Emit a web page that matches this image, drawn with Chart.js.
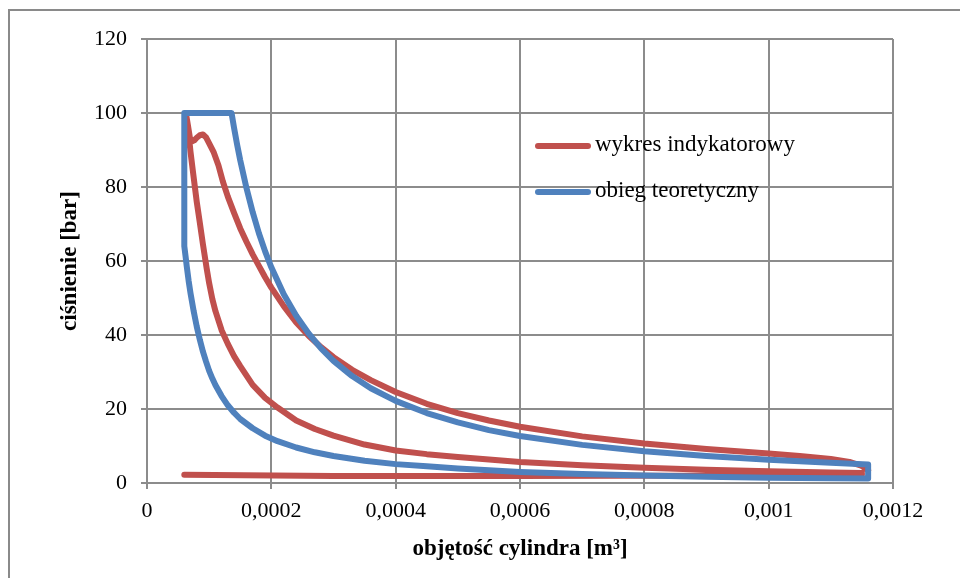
<!DOCTYPE html>
<html>
<head>
<meta charset="utf-8">
<script src="https://cdn.jsdelivr.net/npm/chart.js@4.4.1/dist/chart.umd.min.js"></script>
<style>
  html, body { margin: 0; padding: 0; background: #fff; }
  #wrap { width: 960px; height: 578px; position: relative; }
</style>
</head>
<body>
<div id="wrap"><canvas id="pv" width="960" height="578"></canvas></div>
<script>
// ─── Data ───
const xTicks = [0, 0.0002, 0.0004, 0.0006, 0.0008, 0.001, 0.0012];
const yTicks = [0, 20, 40, 60, 80, 100, 120];

// wykres indykatorowy: intake/exhaust line, compression, combustion bump, expansion
const redV = [
  // intake / exhaust
  0.00006, 0.0003, 0.0006, 0.0009, 0.00115,
  // compression
  0.00115, 0.0011, 0.001, 0.0009, 0.0008, 0.0007, 0.0006, 0.0005, 0.00045, 0.0004, 0.00035,
  0.0003, 0.00027, 0.00024, 0.00021, 0.00019, 0.00017, 0.00015, 0.00014, 0.00013, 0.00012,
  0.00011, 0.000105, 0.0001, 0.000096, 0.00009, 0.000085, 0.00008, 0.000074, 0.00007,
  0.000066, 0.000063,
  // combustion
  0.000066, 0.000069, 0.000072, 0.000076, 0.00008, 0.000085, 0.00009, 0.000095,
  // expansion
  0.0001, 0.000107, 0.000115, 0.000122, 0.00013, 0.00014, 0.00015, 0.00016, 0.00017, 0.00018,
  0.00019, 0.0002, 0.00022, 0.00024, 0.00026, 0.00028, 0.0003, 0.00033, 0.00036, 0.0004,
  0.00045, 0.0005, 0.00055, 0.0006, 0.0007, 0.0008, 0.0009, 0.001, 0.00105, 0.0011, 0.00113,
  0.00115, 0.00116
];
const redP = [
  2.2, 1.9, 1.9, 2.0, 2.2,
  2.7, 2.85, 3.2, 3.6, 4.1, 4.8, 5.7, 7.0, 7.8, 8.8, 10.4,
  12.8, 14.6, 16.9, 20.4, 23.0, 26.5, 31.6, 34.3, 37.6, 41.3,
  46.5, 49.8, 54, 58, 64.5, 70.3, 76, 84, 89.5,
  96, 99.5,
  96.5, 93.3, 92.3, 92.6, 93.3, 94.0, 94.2, 93.4,
  91.8, 89.5, 85.8, 81.5, 77.4, 73, 68.8, 65.2, 61.8, 58.7,
  55.6, 52.8, 47.8, 43.4, 39.8, 36.7, 34.0, 30.6, 27.8, 24.6,
  21.4, 18.9, 16.9, 15.2, 12.6, 10.7, 9.2, 8.0, 7.3, 6.5, 5.7,
  4.6, 3.4
];

// obieg teoretyczny: compression, heat at V=const, heat at p=const, expansion, exhaust
const blueV = [
  // compression
  0.00116, 0.0011, 0.001, 0.0009, 0.0008, 0.0007, 0.0006, 0.0005, 0.00045, 0.0004, 0.00035,
  0.0003, 0.00027, 0.00024, 0.00021, 0.00019, 0.00017, 0.00015, 0.00014, 0.00013, 0.00012,
  0.00011, 0.000105, 0.0001, 0.000095, 0.00009, 0.000085, 0.00008, 0.000075, 0.00007,
  0.000067, 0.000064, 0.000062, 0.00006,
  // heat input
  0.00006, 0.000136,
  // expansion
  0.00014, 0.000145, 0.00015, 0.00016, 0.00017, 0.00018, 0.00019, 0.0002, 0.00022, 0.00024,
  0.00026, 0.00028, 0.0003, 0.00033, 0.00036, 0.0004, 0.00045, 0.0005, 0.00055, 0.0006,
  0.0007, 0.0008, 0.0009, 0.001, 0.0011, 0.00116,
  // exhaust
  0.00116
];
const blueP = [
  1.2, 1.3, 1.45, 1.7, 2.0, 2.45, 3.0, 3.9, 4.5, 5.1, 6.0,
  7.3, 8.3, 9.6, 11.3, 12.8, 14.8, 17.3, 19.0, 21.0, 23.5,
  26.5, 28.3, 30.3, 32.8, 35.5, 38.7, 42.3, 46.5, 51.3,
  54.6, 58.5, 61.3, 64,
  100, 100,
  96, 91.4, 87.2, 79.7, 73.2, 67.5, 62.6, 58.3, 51.0, 45.2,
  40.4, 36.4, 33.0, 28.9, 25.6, 22.2, 18.9, 16.4, 14.3, 12.7,
  10.3, 8.6, 7.3, 6.3, 5.5, 5.0,
  1.2
];

const RED = "#C0504D";
const BLUE = "#4F81BD";
const GRID = "#8c8c8c";
const FONT = "'Liberation Serif', 'Times New Roman', serif";

const toPts = (xs, ys) => xs.map((x, i) => ({ x: x, y: ys[i] }));
const fmtX = v => v === 0 ? "0" : String(+v.toFixed(4)).replace(".", ",");

// ── outer frame of the chart object ──
const framePlugin = {
  id: "frame",
  beforeDraw(chart) {
    const ctx = chart.ctx;
    ctx.save();
    ctx.fillStyle = "#fff";
    ctx.fillRect(0, 0, chart.width, chart.height);
    ctx.strokeStyle = "#8a8a8a";
    ctx.lineWidth = 2;
    ctx.strokeRect(9, 10, 1200, 1200);
    ctx.restore();
  }
};

// ── legend drawn inside the plot, like the original ──
const legendPlugin = {
  id: "innerLegend",
  afterDraw(chart) {
    const ctx = chart.ctx;
    const rows = [{ ds: 0, y: 146 }, { ds: 1, y: 192 }];
    ctx.save();
    ctx.font = "23px " + FONT;
    ctx.textBaseline = "middle";
    ctx.lineCap = "round";
    rows.forEach(r => {
      const ds = chart.data.datasets[r.ds];
      ctx.strokeStyle = ds.borderColor;
      ctx.lineWidth = 6;
      ctx.beginPath();
      ctx.moveTo(538, r.y);
      ctx.lineTo(588, r.y);
      ctx.stroke();
      ctx.fillStyle = "#000";
      ctx.fillText(ds.label, 595, r.y - 1);
    });
    ctx.restore();
  }
};

new Chart(document.getElementById("pv"), {
  type: "scatter",
  data: {
    datasets: [
      { label: "wykres indykatorowy", data: toPts(redV, redP), borderColor: RED, backgroundColor: RED,
        showLine: true, borderWidth: 6, pointRadius: 0, tension: 0, order: 1,
        borderCapStyle: "round", borderJoinStyle: "round" },
      { label: "obieg teoretyczny", data: toPts(blueV, blueP), borderColor: BLUE, backgroundColor: BLUE,
        showLine: true, borderWidth: 6, pointRadius: 0, tension: 0, order: 0,
        borderCapStyle: "round", borderJoinStyle: "round" }
    ]
  },
  options: {
    responsive: false,
    animation: false,
    layout: { padding: { left: 0, right: 67, top: 39, bottom: 0 } },
    plugins: { legend: { display: false }, tooltip: { enabled: false } },
    scales: {
      x: {
        type: "linear", min: 0, max: 0.0012,
        afterBuildTicks: s => { s.ticks = xTicks.map(v => ({ value: v })); },
        afterFit: s => { s.height = 95; },
        grid: { color: GRID, lineWidth: 2, tickLength: 6 },
        border: { color: GRID, width: 2 },
        ticks: { color: "#000", font: { family: FONT, size: 22 }, padding: 9, maxRotation: 0, callback: v => fmtX(v) },
        title: { display: true, text: "objętość cylindra [m³]", color: "#000",
          font: { family: FONT, size: 23, weight: "bold" }, padding: { top: 0, bottom: 15 } }
      },
      y: {
        min: 0, max: 120,
        afterBuildTicks: s => { s.ticks = yTicks.map(v => ({ value: v })); },
        afterFit: s => { s.width = 147; },
        grid: { color: GRID, lineWidth: 2, tickLength: 6 },
        border: { color: GRID, width: 2 },
        ticks: { color: "#000", font: { family: FONT, size: 22 }, padding: 14 },
        title: { display: true, text: "ciśnienie [bar]", color: "#000",
          font: { family: FONT, size: 23, weight: "bold" }, padding: { top: 56, bottom: 0 } }
      }
    }
  },
  plugins: [framePlugin, legendPlugin]
});
</script>
</body>
</html>
